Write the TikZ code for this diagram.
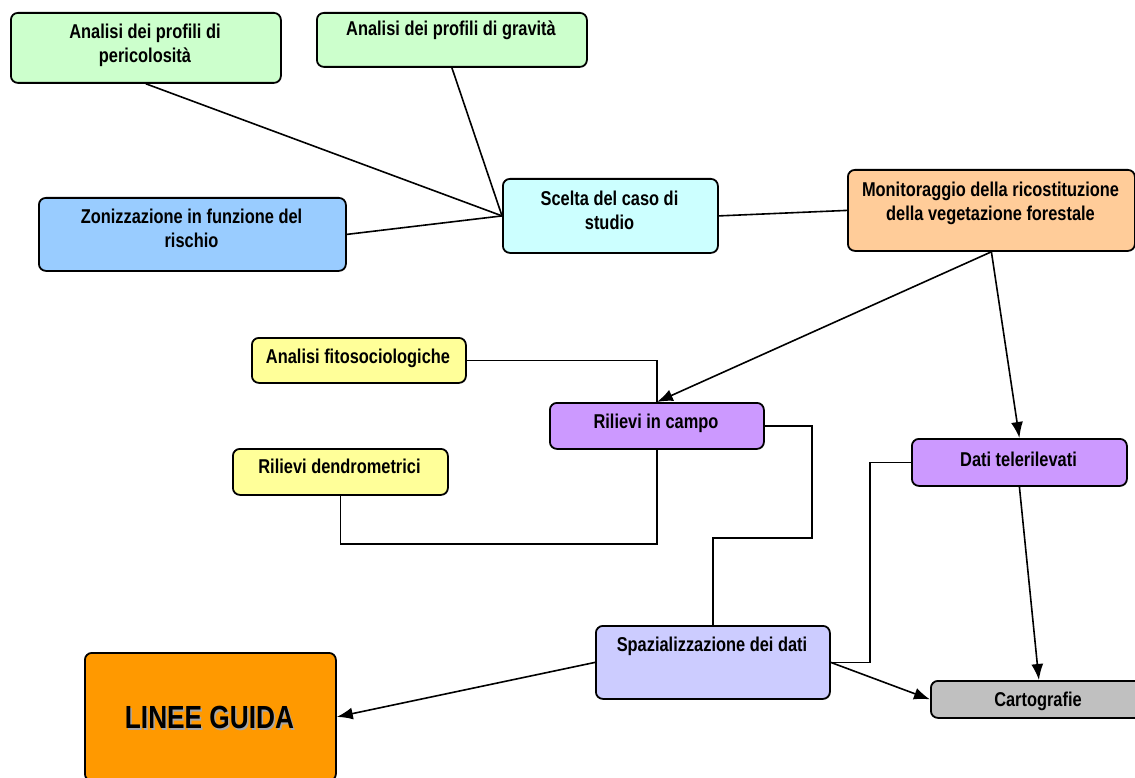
\documentclass[tikz,border=0pt]{standalone}
\usepackage{fontspec}
\setmainfont{Liberation Sans}[FakeStretch=0.82]
\usetikzlibrary{arrows.meta}
\definecolor{cgreen}{HTML}{CCFFCC}
\definecolor{cblue}{HTML}{99CCFF}
\definecolor{ccyan}{HTML}{CCFFFF}
\definecolor{cpeach}{HTML}{FFCC99}
\definecolor{cyellow}{HTML}{FFFF99}
\definecolor{cpurple}{HTML}{CC99FF}
\definecolor{clav}{HTML}{CCCCFF}
\definecolor{corange}{HTML}{FF9900}
\definecolor{cgray}{HTML}{C0C0C0}
\tikzset{
  box/.style={draw=black, line width=1.8pt, rounded corners=7pt, inner sep=0pt, anchor=north west},
  txt/.style={font=\fontsize{20}{23.5}\selectfont\bfseries, align=center, anchor=north, inner sep=0pt},
  conn/.style={line width=1.6pt},
  arr/.style={conn, -{Latex[length=16pt,width=12pt]}},
}
\begin{document}
\begin{tikzpicture}[x=1pt,y=-1pt]
\useasboundingbox (0,0) rectangle (1135,778);
% boxes
\node[box, fill=cgreen, minimum width=270pt, minimum height=70pt] (b1) at (10,12) {};
\node[box, fill=cgreen, minimum width=270pt, minimum height=54pt] (b2) at (316,12) {};
\node[box, fill=cblue, minimum width=307pt, minimum height=73pt] (b3) at (38,197) {};
\node[box, fill=ccyan, minimum width=215pt, minimum height=74pt] (b4) at (502,178) {};
\node[box, fill=cpeach, minimum width=287pt, minimum height=81pt] (b5) at (847,169) {};
\node[box, fill=cyellow, minimum width=214pt, minimum height=45pt] (b6) at (251,337) {};
\node[box, fill=cpurple, minimum width=214pt, minimum height=46pt] (b7) at (549,402) {};
\node[box, fill=cyellow, minimum width=215pt, minimum height=46pt] (b8) at (232,448) {};
\node[box, fill=cpurple, minimum width=215pt, minimum height=47pt] (b9) at (911,438) {};
\node[box, fill=clav, minimum width=234pt, minimum height=73pt] (b10) at (595,625) {};
\node[box, fill=corange, minimum width=251pt, minimum height=128pt] (b11) at (84,652) {};
\node[box, fill=cgray, minimum width=216pt, minimum height=37pt] (b12) at (930,680) {};
% texts
\node[txt] (t1) at (145,24) {Analisi dei profili di\\pericolosità};
\node[txt] (t2) at (451,21) {Analisi dei profili di gravità};
\node[txt] (t3) at (191.5,209) {Zonizzazione in funzione del\\rischio};
\node[txt] (t4) at (609.5,191) {Scelta del caso di\\studio};
\node[txt] (t5) at (990.5,182) {Monitoraggio della ricostituzione\\della vegetazione forestale};
\node[txt] (t6) at (358,349) {Analisi fitosociologiche};
\node[txt] (t7) at (656,414) {Rilievi in campo};
\node[txt] (t8) at (339.5,459) {Rilievi dendrometrici};
\node[txt] (t9) at (1018.5,452) {Dati telerilevati};
\node[txt] (t10) at (712,637) {Spazializzazione dei dati};
\node[txt] (t12) at (1038,692) {Cartografie};
\node[txt, font=\fontsize{32}{36}\selectfont\bfseries, text=gray!70] (t11s) at (211,707.5) {LINEE GUIDA};
\node[txt, font=\fontsize{32}{36}\selectfont\bfseries] (t11) at (209.5,706) {LINEE GUIDA};
% connectors
\draw[conn] (b1.south) -- (b4.west);
\draw[conn] (b2.south) -- (b4.west);
\draw[conn] (b3.east) -- (b4.west);
\draw[conn] (b4.east) -- (b5.west);
\draw[arr] (b5.south) -- (b7.north);
\draw[arr] (b5.south) -- (b9.north);
\draw[conn] (b6.east) -| (b7.north);
\draw[conn] (b7.south) -- ++(0,94) -| (b8.south);
\draw[conn] (b7.east) -- ++(47,0) -- ++(0,112) -| (b10.north);
\draw[conn] (b9.west) -- ++(-41,0) |- (b10.east);
\draw[arr] (b10.west) -- (b11.east);
\draw[arr] (b10.east) -- (b12.west);
\draw[arr] (b9.south) -- (b12.north);
\end{tikzpicture}
\end{document}
